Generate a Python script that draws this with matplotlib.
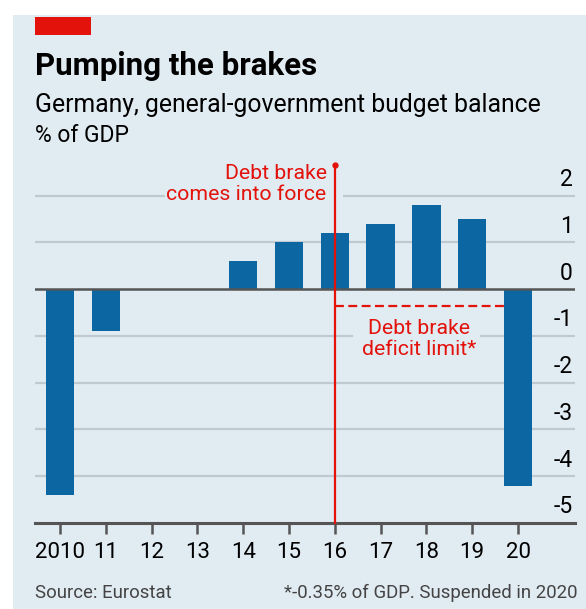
import numpy as np
import matplotlib
matplotlib.use("Agg")
import matplotlib.pyplot as plt
from matplotlib.patches import Rectangle

# data, % of GDP
years = [2010, 2011, 2012, 2013, 2014, 2015, 2016, 2017, 2018, 2019, 2020]
balance = [-4.4, -0.9, 0.0, 0.0, 0.6, 1.0, 1.2, 1.4, 1.8, 1.5, -4.2]
xlabels = ["2010", "11", "12", "13", "14", "15", "16", "17", "18", "19", "20"]
yticks = [2, 1, 0, -1, -2, -3, -4, -5]
brake_year = 2016
deficit_limit = -0.35

W, H = 586, 609
BG = "#e1ebf2"
BLUE = "#0b66a1"
RED = "#e3120b"
GRID = "#bfc9d1"
AXIS = "#555555"

plt.rcParams['font.family'] = ['Roboto', 'DejaVu Sans']

def fx(x):
    return x / W

def fy(y):
    return 1 - y / H

fig = plt.figure(figsize=(W / 100, H / 100), dpi=100, facecolor="white")
fig.patches.append(Rectangle((fx(13), 0), 1 - fx(13), fy(15), transform=fig.transFigure,
                             facecolor=BG, edgecolor="none", zorder=0))
fig.patches.append(Rectangle((fx(35), fy(35)), fx(56), 18 / H, transform=fig.transFigure,
                             facecolor=RED, edgecolor="none", zorder=1))

fig.text(fx(35), fy(75), "Pumping the brakes", fontsize=22.5, fontweight="bold",
         color="black", va="baseline")
fig.text(fx(35), fy(112), "Germany, general-government budget balance", fontsize=17.8,
         color="black", va="baseline")
fig.text(fx(35), fy(142), "% of GDP", fontsize=16.5, color="black", va="baseline")
fig.text(fx(35), fy(598), "Source: Eurostat", fontsize=13.4, color="#444444", va="baseline")
fig.text(fx(577), fy(598), "*-0.35% of GDP. Suspended in 2020", fontsize=13.4,
         color="#444444", va="baseline", ha="right")

# axes: 2010 at px 60, 45.8 px per year; 0 at px 289, 46.8 px per unit
ax = fig.add_axes([fx(35), fy(523), fx(575) - fx(35), fy(163) - fy(523)])
ax.set_zorder(5)
ax.set_facecolor("none")
ax.set_xlim(2010 - 25 / 45.8, 2020 + 57 / 45.8)
ax.set_ylim(-5, 2.7)
for s in ax.spines.values():
    s.set_visible(False)

# gridlines (gaps behind the annotations)
for y in [1, -2, -3, -4]:
    ax.axhline(y, color=GRID, lw=1.6, zorder=1)
ax.hlines(-1, ax.get_xlim()[0], 2016.4, color=GRID, lw=1.6, zorder=1)
ax.hlines(-1, 2019.17, ax.get_xlim()[1], color=GRID, lw=1.6, zorder=1)
ax.hlines(2, ax.get_xlim()[0], 2012.29, color=GRID, lw=1.6, zorder=1)
ax.hlines(2, 2016.18, ax.get_xlim()[1], color=GRID, lw=1.6, zorder=1)

ax.bar(years, balance, width=0.62, color=BLUE, zorder=2)
ax.axhline(0, color=AXIS, lw=1.8, zorder=3)
ax.axhline(-5, color=AXIS, lw=2.2, zorder=3, clip_on=False)

# debt brake line
ax.plot([brake_year, brake_year], [-5, 2.65], color=RED, lw=1.6, zorder=4, clip_on=False)
ax.plot([brake_year], [2.65], "o", color=RED, ms=3.5, zorder=4, clip_on=False)
ax.hlines(deficit_limit, brake_year, 2020 - 0.31, color=RED, lw=1.6,
          linestyles=(0, (4, 2)), zorder=4)

ax.text(2016 - 0.18, 2.25, "Debt brake\ncomes into force", color=RED, fontsize=15.3,
        ha="right", va="center", linespacing=1.08)
ax.text(2017.84, -1.07, "Debt brake\ndeficit limit*", color=RED, fontsize=15.3,
        ha="center", va="center", linespacing=1.12)

# y labels on the right, sitting above the gridlines
ax.set_yticks([])
for y in yticks:
    ax.text(ax.get_xlim()[1] - 0.05, y + 0.1, str(y), fontsize=16.5, ha="right",
            va="bottom", color="black")

ax.set_xticks(years)
ax.set_xticklabels(xlabels, fontsize=16)
ax.tick_params(axis="x", length=8, width=1.8, color=AXIS, pad=5.5, direction="out")

fig.savefig("out.png", dpi=100, facecolor="white")
